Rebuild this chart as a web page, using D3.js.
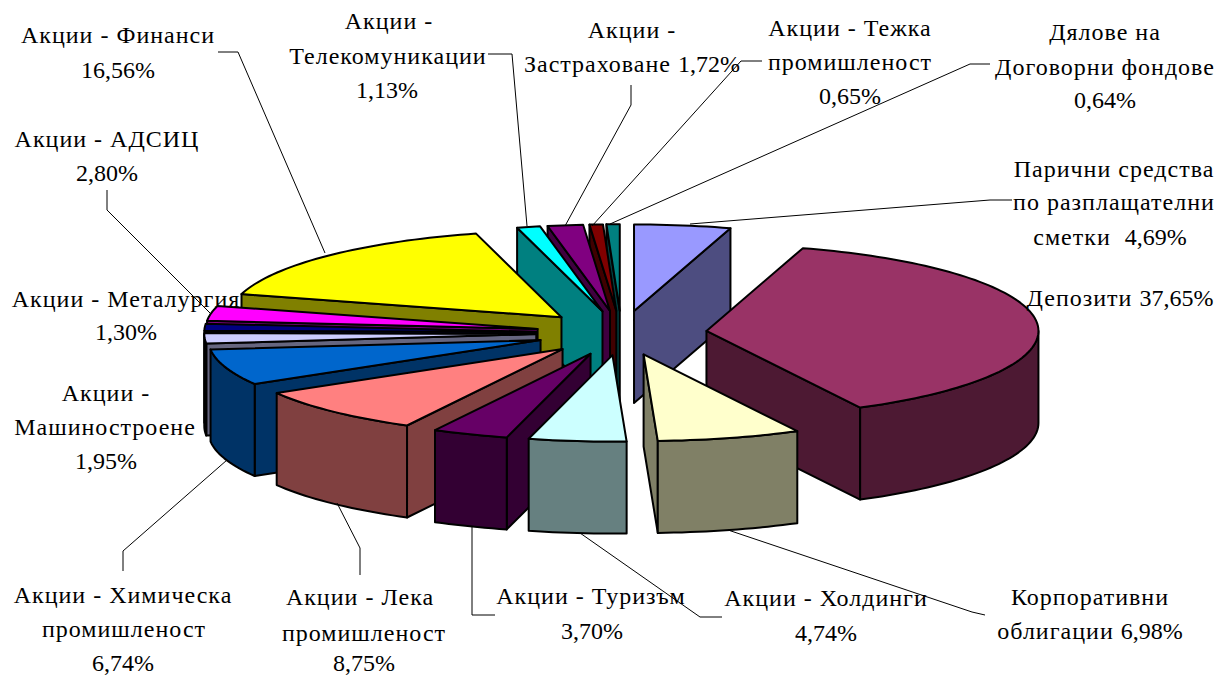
<!DOCTYPE html>
<html><head><meta charset="utf-8">
<script src="https://cdn.jsdelivr.net/npm/d3@7"></script>
<style>html,body{margin:0;padding:0;background:#fff}svg{display:block}
text{font-family:"Liberation Serif",serif;font-size:24px;fill:#000;text-anchor:middle}</style>
</head><body><svg id="c" width="1219" height="675"></svg>
<script>
const categories=["Парични средства","Депозити","Корпоративни облигации","Акции - Холдинги","Акции - Туризъм","Акции - Лека промишленост","Акции - Химическа промишленост","Акции - Машиностроене","Акции - Металургия","Акции - АДСИЦ","Акции - Финанси","Акции - Телекомуникации","Акции - Застраховане","Акции - Тежка промишленост","Дялове на Договорни фондове"];
const values=[4.69,37.65,6.98,4.74,3.70,8.75,6.74,1.95,1.30,2.80,16.56,1.13,1.72,0.65,0.64];
const topColors=["#9999FF","#993366","#FFFFCC","#CCFFFF","#660066","#FF8080","#0066CC","#CCCCFF","#000080","#FF00FF","#FFFF00","#00FFFF","#800080","#800000","#008080"];
const wallColors=["#4D4D80","#4D1933","#808066","#668080","#330033","#804040","#003366","#666680","#000040","#800080","#808000","#008080","#400040","#400000","#004040"];
const labelLines=[
 ["Парични средства","по разплащателни","сметки  4,69%"],
 ["Депозити 37,65%"],
 ["Корпоративни","облигации 6,98%"],
 ["Акции - Холдинги","4,74%"],
 ["Акции - Туризъм","3,70%"],
 ["Акции - Лека","промишленост","8,75%"],
 ["Акции - Химическа","промишленост","6,74%"],
 ["Акции -","Машиностроене","1,95%"],
 ["Акции - Металургия","1,30%"],
 ["Акции - АДСИЦ","2,80%"],
 ["Акции - Финанси","16,56%"],
 ["Акции -","Телекомуникации","1,13%"],
 ["Акции -","Застраховане 1,72%"],
 ["Акции - Тежка","промишленост","0,65%"],
 ["Дялове на","Договорни фондове","0,64%"]];
// layout: per-label centre x and per-line baselines
const labelX=[[1114,1114,1110],[1120],[1090,1090],[826,826],[591,592],[360,364,364],[123,124,123],[106,105,106],[126,126],[107,107],[118,118],[389,388,387],[632,632],[850,850,850],[1105,1105,1105]];
const labelY=[[177,210,245],[306],[605,639],[606,641],[604,639],[605,641,671],[603,637,671],[401,435,469],[307,340],[147,181],[43,78],[29,64,98],[38,72],[36,70,104],[40,75,108]];
const leaders=[
 [[1012,200],[990,200],[690,224]],null,
 [[985,615],[972,612],[728,530]],
 [[722,617],[700,617],[580,533]],
 [[495,615],[472,615],[472,527]],
 [[360,575],[360,548],[337,503]],
 [[123,571],[123,551],[227,460]],
 null,null,
 [[107,190],[107,210],[210,313]],
 [[218,52],[238,52],[325,253]],
 [[488,54],[512,54],[527,226]],
 [[631,85],[631,105],[565,226]],
 [[762,61],[741,61],[592,226]],
 [[990,64],[970,64],[610,224]]];

const cx=621.5,cy=333,rx=332,ry=86.5,depth=92,explode=0.257;
const x=d3.scaleLinear().domain([-1,1]).range([cx-rx,cx+rx]);
const y=d3.scaleLinear().domain([-1,1]).range([cy+ry,cy-ry]);
const pie=d3.pie().sort(null).startAngle(0).endAngle(2*Math.PI).padAngle(0);
const arcs=pie(values).map((d,i)=>{const mid=(d.startAngle+d.endAngle)/2;return {...d,i,mid,
  ox:explode*Math.sin(mid),oy:explode*Math.cos(mid)};});
const pt=(d,a,r=1,dz=0)=>[x(d.ox+r*Math.sin(a)),y(d.oy+r*Math.cos(a))+dz];
const line=d3.line();
const sampled=(a0,a1)=>{const n=Math.max(2,Math.ceil((a1-a0)*40));return d3.range(n+1).map(k=>a0+(a1-a0)*k/n);};
const svg=d3.select("#c");
const dist=a=>a>Math.PI?2*Math.PI-a:a;
const order=arcs.slice().sort((p,q)=>dist(p.mid)-dist(q.mid));
const g=svg.append("g").attr("stroke","#000").attr("stroke-width",2).attr("stroke-linejoin","round");
order.forEach(d=>{
  const s=g.append("g");
  const c=wallColors[d.i];
  const faces=[];
  if(d.startAngle>Math.PI)faces.push(d.startAngle);
  if(d.endAngle<Math.PI)faces.push(d.endAngle);
  faces.forEach(a=>{
    s.append("path").attr("fill",c).attr("d",line([pt(d,0,0),pt(d,a),pt(d,a,1,depth),pt(d,0,0,depth)])+"Z");
  });
  const a0=Math.max(d.startAngle,Math.PI/2),a1=Math.min(d.endAngle,3*Math.PI/2);
  if(a1>a0){
    const top=sampled(a0,a1).map(a=>pt(d,a)),bot=sampled(a0,a1).reverse().map(a=>pt(d,a,1,depth));
    s.append("path").attr("fill",c).attr("d",line(top.concat(bot))+"Z");
  }
  s.append("path").attr("fill",topColors[d.i]).attr("d",line([pt(d,0,0)].concat(sampled(d.startAngle,d.endAngle).map(a=>pt(d,a))))+"Z");
});
leaders.forEach(l=>{if(l)svg.append("path").attr("fill","none").attr("stroke","#000").attr("stroke-width",1).attr("d",line(l));});
labelLines.forEach((ls,i)=>ls.forEach((t,j)=>{
  const el=svg.append("text").attr("x",labelX[i][j]).attr("y",labelY[i][j]).attr("xml:space","preserve").style("white-space","pre");
  const m=t.match(/^(.*?)(\d+,\d+%)$/);
  const word=m?m[1]:t, num=m?m[2]:"";
  if(word)el.append("tspan").attr("letter-spacing",1).text(word);
  if(num)el.append("tspan").text(num);
}));
</script></body></html>
